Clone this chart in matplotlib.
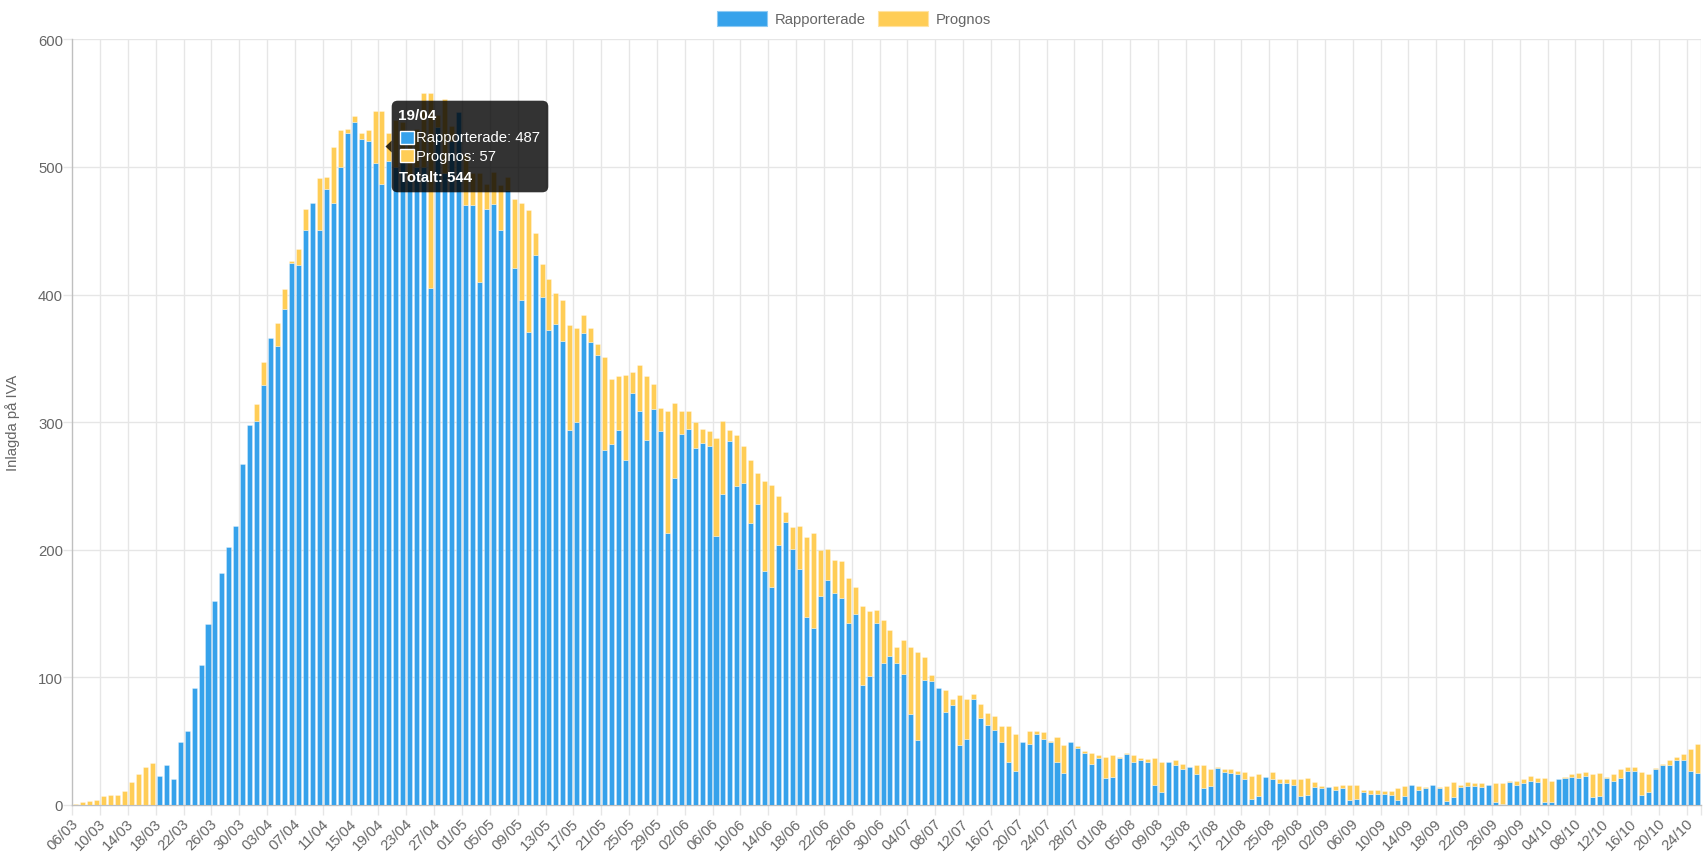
import matplotlib
matplotlib.use('Agg')
import matplotlib.pyplot as plt
import numpy as np
import pandas as pd
from matplotlib.patches import FancyBboxPatch, Polygon, Rectangle
from matplotlib.transforms import IdentityTransform

plt.rcParams['font.family'] = ['Liberation Sans', 'DejaVu Sans']

W, H = 1708, 853

# ---- data -------------------------------------------------------------
start_date = '2020-03-06'
n_days = 234
dates = pd.date_range(start_date, periods=n_days, freq='D')
day_labels = [d.strftime('%d/%m') for d in dates]

reported = [
    0, 0, 0, 0, 0, 0, 0, 0, 0, 0,
    0, 0, 23, 31, 20, 49, 58, 92, 110, 142,
    160, 182, 202, 219, 267, 298, 301, 329, 366, 360,
    389, 425, 423, 451, 472, 451, 483, 472, 500, 527,
    535, 522, 520, 503, 487, 505, 500, 510, 490, 500,
    500, 405, 531, 495, 520, 543, 470, 470, 410, 467,
    471, 451, 482, 421, 396, 371, 431, 398, 372, 377,
    364, 294, 300, 370, 363, 353, 278, 283, 294, 270,
    323, 309, 286, 310, 293, 213, 256, 291, 295, 280,
    284, 281, 211, 244, 285, 250, 252, 221, 236, 183,
    171, 204, 222, 201, 185, 147, 139, 164, 176, 166,
    162, 143, 150, 94, 101, 143, 111, 117, 111, 103,
    71, 51, 98, 97, 92, 73, 78, 47, 52, 83,
    68, 63, 59, 49, 34, 27, 49, 48, 56, 52,
    49, 34, 25, 49, 45, 41, 32, 37, 21, 22,
    37, 40, 34, 35, 34, 16, 10, 34, 31, 28,
    30, 24, 13, 15, 29, 26, 25, 24, 20, 5,
    7, 22, 20, 17, 17, 16, 7, 8, 14, 13,
    14, 12, 13, 4, 5, 10, 9, 9, 9, 8,
    4, 7, 16, 12, 13, 16, 13, 3, 6, 14,
    15, 15, 14, 16, 2, 1, 18, 16, 17, 19,
    18, 2, 2, 20, 21, 22, 21, 23, 6, 7,
    21, 19, 21, 27, 27, 8, 10, 28, 31, 31,
    35, 35, 27, 25,
]

forecast = [
    1, 2, 3, 4, 7, 8, 8, 11, 18, 24,
    30, 33, 0, 0, 0, 0, 0, 0, 0, 0,
    0, 0, 0, 0, 0, 0, 13, 18, 0, 18,
    15, 1, 13, 16, 0, 40, 9, 44, 29, 3,
    5, 5, 9, 41, 57, 22, 37, 25, 35, 30,
    58, 153, 10, 58, 12, 0, 40, 25, 85, 20,
    25, 35, 10, 54, 76, 95, 17, 26, 40, 24,
    32, 82, 74, 14, 11, 8, 73, 51, 42, 67,
    16, 36, 50, 20, 18, 96, 59, 18, 14, 20,
    11, 12, 77, 57, 9, 40, 29, 49, 24, 71,
    80, 38, 8, 17, 34, 63, 74, 36, 25, 26,
    29, 35, 21, 62, 51, 10, 34, 20, 13, 26,
    53, 69, 18, 5, 0, 17, 5, 39, 31, 4,
    11, 9, 11, 13, 28, 29, 0, 10, 2, 5,
    1, 19, 22, 0, 1, 1, 9, 2, 17, 17,
    1, 1, 5, 2, 2, 21, 24, 0, 4, 4,
    0, 7, 18, 13, 1, 2, 3, 3, 6, 18,
    17, 0, 6, 3, 3, 4, 13, 13, 4, 2,
    0, 3, 3, 12, 11, 2, 3, 3, 2, 3,
    9, 8, 0, 3, 1, 0, 1, 12, 12, 2,
    3, 2, 3, 0, 15, 16, 1, 3, 3, 4,
    3, 19, 17, 0, 1, 2, 4, 3, 18, 18,
    1, 5, 7, 3, 3, 18, 14, 1, 1, 4,
    3, 5, 17, 23,
]

series_names = ['Rapporterade', 'Prognos']
y_ticks = [0, 100, 200, 300, 400, 500, 600]
y_title = 'Inlagda på IVA'

tooltip_day = '19/04'
# ------------------------------------------------------------------------

BLUE = '#36A2EB'
YELLOW = '#FFCD56'
GRID = '#e6e6e6'
ZERO = '#bfbfbf'
TXT = '#666666'
FS = 10.7

rep = np.array(reported, dtype=float)
fc = np.array(forecast, dtype=float)
x = np.arange(len(rep))

fig = plt.figure(figsize=(W / 100, H / 100), dpi=100)
ax = fig.add_axes([72.3 / W, (H - 806) / H, (1700.7 - 72.3) / W, (806 - 40.4) / H])

bw = 0.72
mb = rep > 0
ax.bar(x[mb], rep[mb], width=bw, color=BLUE, edgecolor=(1, 1, 1, 0.35),
       linewidth=0.6, zorder=3)
my = fc > 0
ax.bar(x[my], fc[my], bottom=rep[my], width=bw, color=YELLOW,
       edgecolor=(1, 1, 1, 0.35), linewidth=0.6, zorder=3)

ax.set_xlim(-0.5, len(rep) - 0.5)
ax.set_ylim(0, 600)

# vertical grid lines (every 4th day) + right border
grid_x = list(np.arange(-0.5, len(rep) - 0.5, 4)) + [len(rep) - 0.5]
for gx in grid_x[1:]:
    ax.axvline(gx, color=GRID, lw=1, zorder=1)
for gy in y_ticks[1:]:
    ax.axhline(gy, color=GRID, lw=1, zorder=1)

for s in ['top', 'right']:
    ax.spines[s].set_visible(False)
ax.spines['left'].set_color(ZERO)
ax.spines['bottom'].set_color(ZERO)
ax.spines['left'].set_linewidth(1)
ax.spines['bottom'].set_linewidth(1)

# x ticks: labels at every 4th bar, tick marks at grid lines
ax.set_xticks(x[::4])
ax.set_xticklabels([day_labels[i] for i in x[::4]], rotation=45, ha='right',
                   va='center', rotation_mode='anchor', fontsize=FS, color=TXT)
ax.tick_params(axis='x', which='major', length=0, pad=11.5)
ax.set_xticks(grid_x, minor=True)
ax.tick_params(axis='x', which='minor', length=7.2, width=1, color=GRID)

ax.set_yticks(y_ticks)
ax.set_yticklabels([str(v) for v in y_ticks], fontsize=FS, color=TXT)
ax.tick_params(axis='y', which='major', length=6.5, width=1, color=GRID, pad=0.2)

fig.text(13 / W, 1 - 423 / H, y_title, rotation=90, ha='center', va='center',
         fontsize=FS, color=TXT)

# legend (manual, chart.js style)
ident = IdentityTransform()


def P(px, py):
    return (px, H - py)


def add_rect(x0, y0, w, h, fcol, ecol, lw=1, z=20):
    r = Rectangle(P(x0, y0 + h), w, h, transform=ident, facecolor=fcol,
                  edgecolor=ecol, linewidth=lw, zorder=z)
    fig.add_artist(r)
    return r


add_rect(716.7, 12.3, 50, 14.4, BLUE, '#8fcaf3', lw=0.8)
fig.text(775 / W, 1 - 19.8 / H, series_names[0], ha='left', va='center',
         fontsize=FS, color=TXT)
add_rect(878, 12.3, 50, 14.4, YELLOW, '#ffe3a3', lw=0.8)
fig.text(936 / W, 1 - 19.8 / H, series_names[1], ha='left', va='center',
         fontsize=FS, color=TXT)

# tooltip for the hovered day
ti = day_labels.index(tooltip_day)
t_rep = int(rep[ti])
t_fc = int(fc[ti])
box = FancyBboxPatch(P(391.7, 193.3), 156.6, 91.6,
                     boxstyle='round,pad=0,rounding_size=6', transform=ident,
                     facecolor=(0, 0, 0, 0.8), edgecolor='none', zorder=20)
fig.add_artist(box)
caret = Polygon([P(391.7, 141.5), P(385.5, 147.5), P(391.7, 153.5)],
                closed=True, transform=ident, facecolor=(0, 0, 0, 0.8),
                edgecolor='none', zorder=20)
fig.add_artist(caret)

fig.text(398.5 / W, 1 - 116.5 / H, tooltip_day, ha='left', va='center',
         fontsize=11, color='white', fontweight='bold', zorder=21)
add_rect(399.5, 132, 14, 13, BLUE, 'white', lw=1, z=21)
fig.text(416.2 / W, 1 - 138.5 / H, f'{series_names[0]}: {t_rep}', ha='left',
         va='center', fontsize=FS, color='white', zorder=21)
add_rect(399.5, 150.3, 14, 13, YELLOW, 'white', lw=1, z=21)
fig.text(416.2 / W, 1 - 156.8 / H, f'{series_names[1]}: {t_fc}', ha='left',
         va='center', fontsize=FS, color='white', zorder=21)
fig.text(399.5 / W, 1 - 178 / H, f'Totalt: {t_rep + t_fc}', ha='left',
         va='center', fontsize=FS, color='white', fontweight='bold', zorder=21)

fig.savefig('out.png', dpi=100, facecolor='white')
